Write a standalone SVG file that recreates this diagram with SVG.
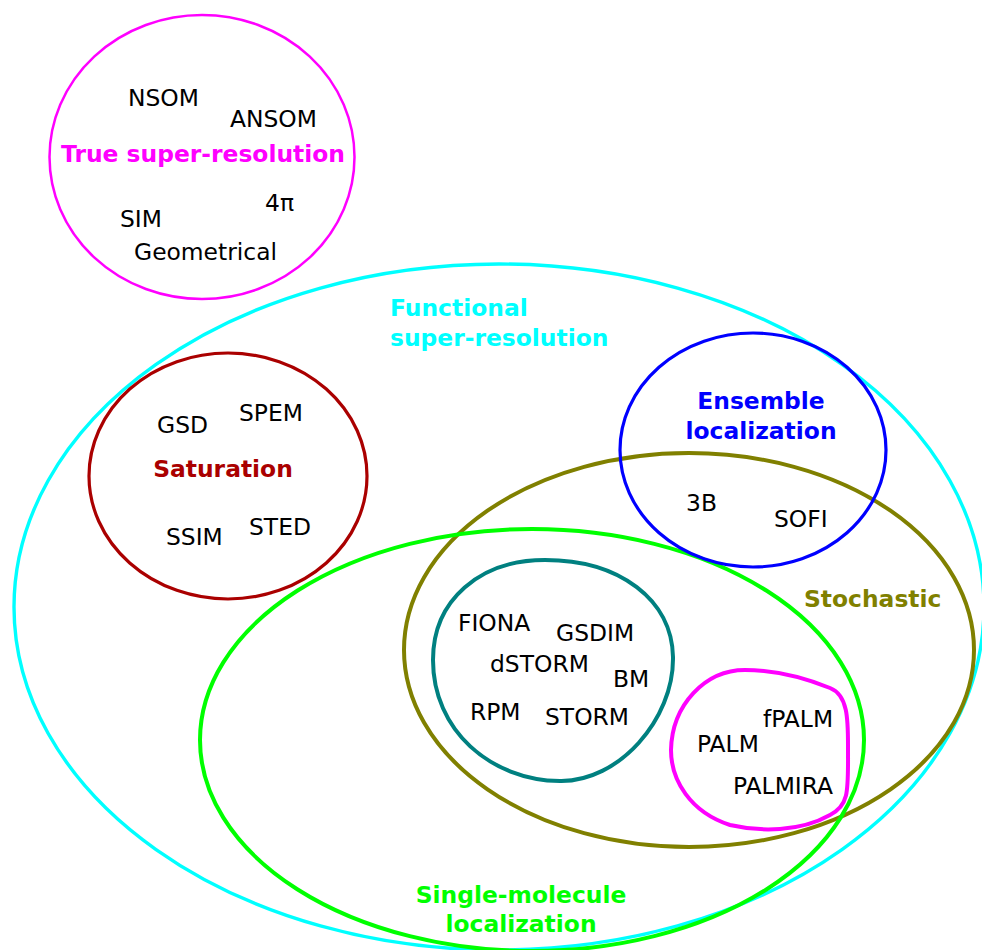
<svg xmlns="http://www.w3.org/2000/svg" width="982" height="950" viewBox="0 0 982 950">
<style>
.s{fill:none}
.t{font-family:"DejaVu Sans",sans-serif;font-size:23.4px;fill:#000}
.b{font-family:"DejaVu Sans",sans-serif;font-size:23.4px;font-weight:bold}
.m{text-anchor:middle}
</style>
<rect width="982" height="950" fill="#fff"/>
<g id="functional">
<ellipse class="s" cx="499" cy="607" rx="485" ry="343" stroke="#00ffff" stroke-width="3.4"/>
<text class="b" x="390" y="316" fill="#00ffff">Functional</text>
<text class="b" x="390" y="346" fill="#00ffff">super-resolution</text>
</g>
<g id="true-super-resolution">
<ellipse class="s" cx="202" cy="157" rx="152.5" ry="142" stroke="#ff00ff" stroke-width="2.5"/>
<text class="t" x="128" y="106">NSOM</text>
<text class="t" x="230" y="127">ANSOM</text>
<text class="b m" x="203" y="162" fill="#ff00ff">True super-resolution</text>
<text class="t" x="265" y="211">4π</text>
<text class="t" x="120" y="227">SIM</text>
<text class="t" x="134" y="260">Geometrical</text>
</g>
<g id="saturation">
<ellipse class="s" cx="228" cy="476" rx="139" ry="123" stroke="#aa0000" stroke-width="3.2"/>
<text class="t" x="157" y="433">GSD</text>
<text class="t" x="239" y="421">SPEM</text>
<text class="b m" x="223" y="477" fill="#aa0000">Saturation</text>
<text class="t" x="166" y="545">SSIM</text>
<text class="t" x="249" y="535">STED</text>
</g>
<g id="stochastic">
<ellipse class="s" cx="689" cy="650" rx="285" ry="197" stroke="#808000" stroke-width="4"/>
<text class="b" x="804" y="607" fill="#808000">Stochastic</text>
</g>
<g id="single-molecule">
<ellipse class="s" cx="532" cy="740" rx="332" ry="211" stroke="#00ff00" stroke-width="4"/>
<text class="b m" x="521" y="903" fill="#00ff00">Single-molecule</text>
<text class="b m" x="521" y="932" fill="#00ff00">localization</text>
</g>
<g id="ensemble">
<ellipse class="s" cx="753" cy="450" rx="133" ry="117" stroke="#0000ff" stroke-width="3.2"/>
<text class="b m" x="761" y="409" fill="#0000ff">Ensemble</text>
<text class="b m" x="761" y="439" fill="#0000ff">localization</text>
<text class="t" x="686" y="511">3B</text>
<text class="t" x="774" y="527">SOFI</text>
</g>
<g id="deterministic-group">
<path class="s" stroke="#008080" stroke-width="4" d="M545,560 C620,560 672,600 673,657 C674,720 618,782 560,781 C490,780 433,730 433,660 C433,600 480,560 545,560 Z"/>
<text class="t" x="458" y="631">FIONA</text>
<text class="t" x="556" y="641">GSDIM</text>
<text class="t" x="490" y="672">dSTORM</text>
<text class="t" x="613" y="687">BM</text>
<text class="t" x="470" y="720">RPM</text>
<text class="t" x="545" y="725">STORM</text>
</g>
<g id="palm">
<path class="s" stroke="#ff00ff" stroke-width="4" d="M745,670 C780,670 810,680 830,688 C848,695 848,720 848,745 C848,790 850,805 830,815 C800,832 760,832 730,825 C690,812 671,780 671,750 C672,705 705,670 745,670 Z"/>
<text class="t" x="763" y="727">fPALM</text>
<text class="t" x="697" y="752">PALM</text>
<text class="t" x="733" y="794">PALMIRA</text>
</g>
</svg>
